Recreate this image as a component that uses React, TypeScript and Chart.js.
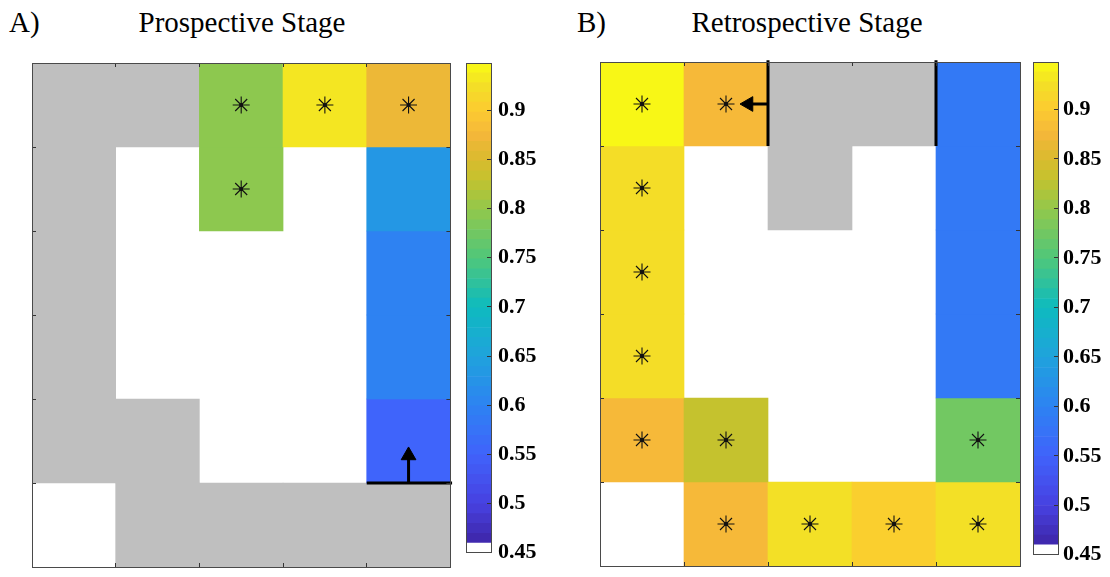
import React, { useEffect, useRef } from 'react';
import { Chart, registerables } from 'chart.js';

Chart.register(...registerables);

// ---------------- data ----------------
const columnLabels = ['1', '2', '3', '4', '5'];
const rowCount = 6;
const X = 'excluded'; // grey (excluded) cell; null = empty (white) cell

const prospectiveValues = [
  [X, X, 0.795, 0.93, 0.868],
  [X, null, 0.795, null, 0.632],
  [X, null, null, null, 0.598],
  [X, null, null, null, 0.598],
  [X, X, null, null, 0.552],
  [null, X, X, X, X],
];

const retrospectiveValues = [
  [0.945, 0.878, X, X, 0.585],
  [0.922, null, X, null, 0.585],
  [0.922, null, null, null, 0.585],
  [0.922, null, null, null, 0.585],
  [0.878, 0.83, null, null, 0.775],
  [null, 0.878, 0.925, 0.905, 0.925],
];

// [column, row] of significant cells
const prospectiveStars = [[2, 0], [3, 0], [4, 0], [2, 1]];
const retrospectiveStars = [
  [0, 0], [1, 0], [0, 1], [0, 2], [0, 3], [0, 4],
  [1, 4], [4, 4], [1, 5], [2, 5], [3, 5], [4, 5],
];

// wall segments and arrows in grid units: [[x0, y0], [x1, y1]]
const prospectiveWalls = [[[3.5, 5], [4.52, 5]]];
const retrospectiveWalls = [[[1.5, -0.02], [1.5, 1]], [[3.5, -0.02], [3.5, 1]]];
const prospectiveArrows = [[[4, 5], [4, 4.571]]];
const retrospectiveArrows = [[[1.5, 0.5], [1.167, 0.5]]];

const colorbarTicks = [0.45, 0.5, 0.55, 0.6, 0.65, 0.7, 0.75, 0.8, 0.85, 0.9];
const colorMin = 0.45;
const colorMax = 0.948;
const colorbarBins = 50;

// ---------------- styles ----------------
const GRAY = '#BFBFBF';
const AXIS_COLOR = '#4a4a4a';
const SERIF = '"Liberation Serif", "Times New Roman", serif';
const CELL_PX = 84;
const HEAD_RADIUS = 8.5;

const PARULA: [number, string][] = [
  [0.46, '#3E26A8'],
  [0.5, '#4741E1'],
  [0.55, '#4063FB'],
  [0.6, '#2D83F2'],
  [0.65, '#1FA3DC'],
  [0.7, '#0EBBBE'],
  [0.75, '#50C77A'],
  [0.8, '#94C84A'],
  [0.83, '#C5C22E'],
  [0.85, '#DABA2E'],
  [0.875, '#F5B73A'],
  [0.9, '#FCCB30'],
  [0.925, '#F3E026'],
  [0.948, '#F9FB14'],
];

function hexToRgb(h: string) {
  const n = parseInt(h.slice(1), 16);
  return [(n >> 16) & 255, (n >> 8) & 255, n & 255];
}

function colormap(v: number) {
  if (v <= PARULA[0][0]) return PARULA[0][1];
  for (let i = 1; i < PARULA.length; i++) {
    const [v1, c1] = PARULA[i];
    if (v <= v1) {
      const [v0, c0] = PARULA[i - 1];
      const t = (v - v0) / (v1 - v0);
      const a = hexToRgb(c0);
      const b = hexToRgb(c1);
      const m = a.map((x, k) => Math.round(x + (b[k] - x) * t));
      return `rgb(${m[0]},${m[1]},${m[2]})`;
    }
  }
  return PARULA[PARULA.length - 1][1];
}

function frameAxis(position: string, extra: any = {}) {
  const horizontal = position === 'top' || position === 'bottom';
  return {
    position,
    display: true,
    ticks: { display: false },
    grid: {
      display: true,
      drawOnChartArea: false,
      drawTicks: true,
      tickLength: -4,
      color: '#333',
      lineWidth: 1,
      z: 1,
    },
    border: { display: true, color: AXIS_COLOR, width: 1, z: 2 },
    afterFit: (s: any) => {
      if (horizontal) s.height = 0;
      else s.width = 0;
    },
    ...extra,
  };
}

function buildHeatmapConfig(values: any[][], stars: number[][], walls: number[][][], arrows: number[][][], padding: any) {
  const datasets: any[] = [];
  values.forEach((row, r) => {
    datasets.push({
      type: 'bar',
      data: row.map((v) => (v === null ? null : [r, r + 1])),
      backgroundColor: row.map((v) => (v === X ? GRAY : v === null ? 'rgba(0,0,0,0)' : colormap(v))),
      grouped: false,
      barPercentage: 1,
      categoryPercentage: 1,
      borderWidth: 0,
      xAxisID: 'x',
      yAxisID: 'y',
      order: 10,
    });
  });
  walls.forEach((w) => {
    datasets.push({
      type: 'line',
      data: w.map(([x, y]) => ({ x, y })),
      borderColor: '#000',
      borderWidth: 3,
      borderCapStyle: 'butt',
      pointRadius: 0,
      xAxisID: 'xv',
      yAxisID: 'y',
      order: 3,
      clip: false,
    });
  });
  arrows.forEach(([from, to]) => {
    const dx = to[0] - from[0];
    const dy = to[1] - from[1];
    const len = Math.hypot(dx, dy);
    const off = HEAD_RADIUS / CELL_PX;
    const head = { x: to[0] - (dx / len) * off, y: to[1] - (dy / len) * off };
    const rotation = (Math.atan2(dx, -dy) * 180) / Math.PI;
    datasets.push({
      type: 'line',
      data: [{ x: from[0], y: from[1] }, head],
      borderColor: '#000',
      borderWidth: 3,
      pointRadius: 0,
      xAxisID: 'xv',
      yAxisID: 'y',
      order: 2,
    });
    datasets.push({
      type: 'scatter',
      data: [head],
      pointStyle: 'triangle',
      pointRadius: HEAD_RADIUS,
      rotation,
      backgroundColor: '#000',
      borderColor: '#000',
      borderWidth: 1,
      xAxisID: 'xv',
      yAxisID: 'y',
      order: 1,
    });
  });
  datasets.push({
    type: 'scatter',
    data: stars.map(([c, r]) => ({ x: c, y: r + 0.5 })),
    pointStyle: 'star',
    pointRadius: 8.5,
    borderColor: '#111',
    borderWidth: 1.1,
    backgroundColor: '#111',
    xAxisID: 'xv',
    yAxisID: 'y',
    order: 0,
  });
  datasets.push({
    type: 'scatter',
    data: stars.map(([c, r]) => ({ x: c, y: r + 0.5 })),
    pointStyle: 'circle',
    pointRadius: 2,
    borderWidth: 0,
    backgroundColor: '#000',
    xAxisID: 'xv',
    yAxisID: 'y',
    order: 0,
  });

  const yExtra = { type: 'linear', min: 0, max: rowCount, reverse: true, ticks: { display: false, stepSize: 1 } };
  const xExtra = { type: 'category', labels: columnLabels, offset: true };
  const xa = frameAxis('bottom', xExtra);
  xa.grid = { ...xa.grid, offset: true } as any;
  const xt = frameAxis('top', xExtra);
  xt.grid = { ...xt.grid, offset: true } as any;

  return {
    type: 'bar',
    data: { labels: columnLabels, datasets },
    options: {
      responsive: false,
      animation: false,
      events: [],
      layout: { padding },
      plugins: { legend: { display: false }, tooltip: { enabled: false }, title: { display: false } },
      scales: {
        x: xa,
        xTop: xt,
        xv: {
          type: 'linear',
          min: -0.5,
          max: columnLabels.length - 0.5,
          offset: false,
          grid: { offset: false },
          display: false,
        },
        y: frameAxis('left', yExtra),
        yRight: frameAxis('right', yExtra),
      },
    },
  };
}

function buildColorbarConfig(padding: any, labelWidth: number, labelPadding: number) {
  const step = (colorMax - colorMin) / colorbarBins;
  const datasets: any[] = [];
  for (let i = 0; i < colorbarBins; i++) {
    const lo = colorMin + i * step;
    const hi = lo + step;
    datasets.push({
      type: 'bar',
      data: [[lo, hi]],
      backgroundColor: i === 0 ? '#FFFFFF' : colormap((lo + hi) / 2),
      grouped: false,
      barPercentage: 1,
      categoryPercentage: 1,
      borderWidth: 0,
    });
  }
  const yBase = { type: 'linear', min: colorMin, max: colorMax };
  const left = frameAxis('left', yBase);
  left.grid = { ...left.grid, display: false } as any;
  const bottom = frameAxis('bottom', { type: 'category', labels: [''], offset: true });
  bottom.grid = { ...bottom.grid, display: false } as any;
  const top = frameAxis('top', { type: 'category', labels: [''], offset: true });
  top.grid = { ...top.grid, display: false } as any;
  const right: any = {
    ...frameAxis('right', yBase),
    afterBuildTicks: (s: any) => {
      s.ticks = colorbarTicks.map((v) => ({ value: v }));
    },
    afterFit: (s: any) => {
      s.width = labelWidth;
    },
    ticks: {
      display: true,
      padding: labelPadding,
      color: '#000',
      font: { family: SERIF, size: 22, weight: 'bold' },
      callback: (v: number) => `${Math.round(v * 100) / 100}`,
    },
  };
  return {
    type: 'bar',
    data: { labels: [''], datasets },
    options: {
      responsive: false,
      animation: false,
      events: [],
      layout: { padding },
      plugins: { legend: { display: false }, tooltip: { enabled: false } },
      scales: { x: bottom, xTop: top, y: left, yRight: right },
    },
  };
}

function ChartCanvas({ config, left, top, width, height }: any) {
  const ref = useRef<HTMLCanvasElement>(null);
  useEffect(() => {
    const chart = new Chart(ref.current as HTMLCanvasElement, config());
    return () => chart.destroy();
  }, []);
  return (
    <canvas
      ref={ref}
      width={width}
      height={height}
      style={{ position: 'absolute', left, top, width, height }}
    />
  );
}

const titleStyle: any = {
  position: 'absolute',
  top: 8,
  fontFamily: SERIF,
  fontSize: 29,
  lineHeight: '29px',
  color: '#000',
  whiteSpace: 'nowrap',
};

export default function App() {
  return (
    <div
      style={{
        position: 'fixed',
        left: 0,
        top: 0,
        width: 1110,
        height: 577,
        background: '#fff',
        overflow: 'hidden',
      }}
    >
      <div style={{ ...titleStyle, left: 9 }}>A)</div>
      <div style={{ ...titleStyle, left: 32, width: 420, textAlign: 'center' }}>Prospective Stage</div>
      <div style={{ ...titleStyle, left: 577 }}>B)</div>
      <div style={{ ...titleStyle, left: 597, width: 420, textAlign: 'center' }}>Retrospective Stage</div>

      <ChartCanvas
        left={0}
        top={0}
        width={460}
        height={577}
        config={() =>
          buildHeatmapConfig(prospectiveValues, prospectiveStars, prospectiveWalls, prospectiveArrows, {
            left: 32,
            right: 8,
            top: 63,
            bottom: 10,
          })
        }
      />
      <ChartCanvas
        left={466}
        top={0}
        width={94}
        height={577}
        config={() => buildColorbarConfig({ left: 0, right: 0, top: 63, bottom: 10 }, 69, 11)}
      />
      <ChartCanvas
        left={560}
        top={0}
        width={470}
        height={577}
        config={() =>
          buildHeatmapConfig(retrospectiveValues, retrospectiveStars, retrospectiveWalls, retrospectiveArrows, {
            left: 40,
            right: 10,
            top: 62,
            bottom: 11,
          })
        }
      />
      <ChartCanvas
        left={1033}
        top={0}
        width={77}
        height={577}
        config={() => buildColorbarConfig({ left: 0, right: 0, top: 62, bottom: 11 }, 52, 9)}
      />
    </div>
  );
}
